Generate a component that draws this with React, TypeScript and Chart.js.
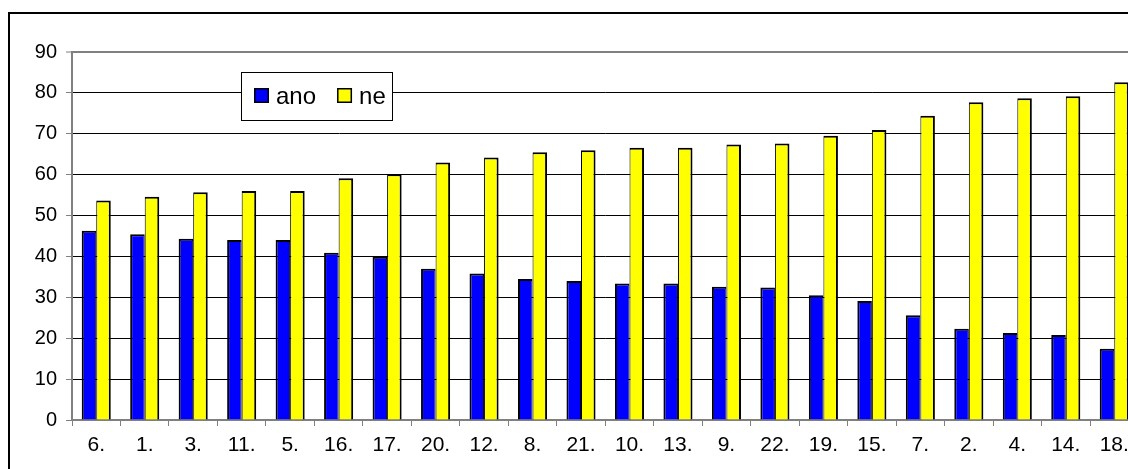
import React, { useEffect, useRef } from 'react';
import { Chart, registerables } from 'chart.js';

Chart.register(...registerables);

const categories = ['6.', '1.', '3.', '11.', '5.', '16.', '17.', '20.', '12.', '8.', '21.', '10.', '13.', '9.', '22.', '19.', '15.', '7.', '2.', '4.', '14.', '18.'];
const anoValues = [46.3, 45.4, 44.3, 44.0, 44.0, 40.9, 39.9, 37.0, 35.8, 34.5, 34.0, 33.4, 33.4, 32.6, 32.4, 30.5, 29.1, 25.6, 22.3, 21.3, 20.8, 17.4];
const neValues = [53.7, 54.6, 55.7, 56.0, 56.0, 59.1, 60.1, 63.0, 64.2, 65.5, 66.0, 66.6, 66.6, 67.4, 67.6, 69.5, 70.9, 74.4, 77.7, 78.7, 79.2, 82.6];
const seriesNames = ['ano', 'ne'];
const seriesColors = ['#0000FF', '#FFFF00'];
const yMin = 0;
const yMax = 90;
const yStep = 10;

const FONT = '"Liberation Sans", Arial, Helvetica, sans-serif';

const floatLegend = {
  id: 'floatLegend',
  afterDraw(chart: any) {
    const ctx = chart.ctx as CanvasRenderingContext2D;
    const bx = 241.5, by = 72.5, bw = 151, bh = 48;
    ctx.save();
    ctx.fillStyle = '#FFFFFF';
    ctx.fillRect(bx, by, bw, bh);
    ctx.strokeStyle = '#000000';
    ctx.lineWidth = 1;
    ctx.strokeRect(bx, by, bw, bh);
    ctx.font = `24px ${FONT}`;
    ctx.textBaseline = 'alphabetic';
    ctx.textAlign = 'left';
    let x = 254;
    chart.data.datasets.forEach((ds: any) => {
      ctx.fillStyle = ds.backgroundColor;
      ctx.fillRect(x, 88, 15, 15);
      ctx.strokeStyle = '#000000';
      ctx.lineWidth = 1.5;
      ctx.strokeRect(x + 0.75, 88.75, 13.5, 13.5);
      ctx.fillStyle = '#000000';
      const tx = x + 22;
      ctx.fillText(ds.label, tx, 104);
      x = tx + ctx.measureText(ds.label).width + 21;
    });
    ctx.restore();
  },
};

export default function App() {
  const ref = useRef<HTMLCanvasElement | null>(null);

  useEffect(() => {
    if (!ref.current) return;
    const chart = new Chart(ref.current, {
      type: 'bar',
      data: {
        labels: categories,
        datasets: [
          {
            label: seriesNames[0],
            data: anoValues,
            backgroundColor: seriesColors[0],
            borderColor: '#000000',
            borderWidth: { top: 2, left: 2, right: 1, bottom: 0 },
            borderSkipped: false,
          },
          {
            label: seriesNames[1],
            data: neValues,
            backgroundColor: seriesColors[1],
            borderColor: '#000000',
            borderWidth: { top: 2, left: 1, right: 2, bottom: 0 },
            borderSkipped: false,
          },
        ],
      },
      options: {
        responsive: false,
        animation: false,
        devicePixelRatio: 1,
        datasets: {
          bar: { categoryPercentage: 0.6, barPercentage: 1.0 },
        },
        layout: { padding: { top: 52, right: 11.5, bottom: 0, left: 0 } },
        plugins: {
          legend: { display: false },
          tooltip: { enabled: false },
        },
        scales: {
          x: {
            offset: true,
            afterFit: (s: any) => { s.height = 49; },
            grid: {
              offset: true,
              drawOnChartArea: false,
              drawTicks: true,
              tickLength: 6,
              color: '#808080',
              lineWidth: 1,
            },
            border: { display: true, color: '#808080', width: 2 },
            ticks: {
              color: '#000000',
              font: { family: FONT, size: 21 },
              padding: 7,
              maxRotation: 0,
              autoSkip: false,
            },
          },
          y: {
            min: yMin,
            max: yMax,
            afterFit: (s: any) => { s.width = 72; },
            grid: {
              color: (c: any) => (c.tick && c.tick.value === yMax ? '#808080' : '#000000'),
              lineWidth: (c: any) => (c.tick && c.tick.value === yMax ? 2 : 1),
              drawTicks: true,
              tickLength: 6,
              tickColor: '#808080',
              tickWidth: 1,
            },
            border: { display: true, color: '#808080', width: 2 },
            ticks: {
              stepSize: yStep,
              color: '#000000',
              font: { family: FONT, size: 20 },
              padding: 9,
            },
          },
        },
      },
      plugins: [floatLegend],
    });
    return () => chart.destroy();
  }, []);

  return (
    <div style={{ position: 'fixed', left: 0, top: 0, width: 1128, height: 469, overflow: 'hidden', background: '#FFFFFF' }}>
      <div style={{ position: 'absolute', left: 8, top: 12, width: 1400, height: 800, borderTop: '2px solid #000', borderLeft: '2px solid #000' }} />
      <canvas ref={ref} width={1150} height={469} style={{ position: 'absolute', left: 0, top: 0, width: 1150, height: 469 }} />
    </div>
  );
}
